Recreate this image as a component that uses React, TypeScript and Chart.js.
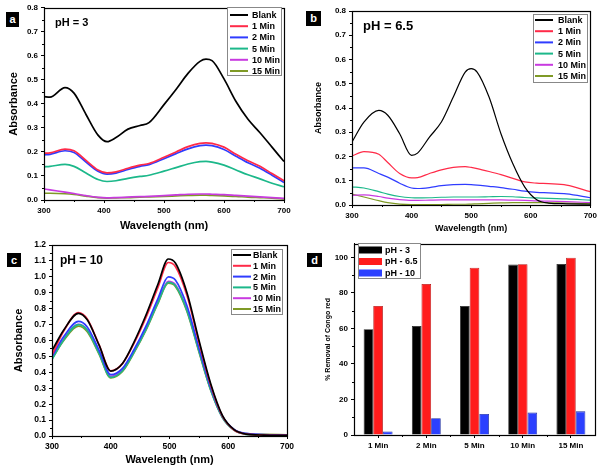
import React, { useEffect, useRef } from 'react';
import { Chart, registerables } from 'chart.js';
Chart.register(...registerables);

const FONT = '"Liberation Sans", Arial, Helvetica, sans-serif';

// ---------- shared series info ----------
const SERIES_LABELS = ['Blank', '1 Min', '2 Min', '5 Min', '10 Min', '15 Min'];
const LINE_COLORS = ['#000000', '#ff2a48', '#2f3cff', '#1cb88a', '#c83ae0', '#7f9a26'];

// ---------- panel a (pH = 3) ----------
const WL_A = [300, 310, 335, 350, 370, 390, 405, 420, 440, 460, 475, 500, 520, 540, 560, 570, 580, 600, 620, 640, 660, 680, 700];
const A_BLANK = [0.43, 0.428, 0.468, 0.445, 0.356, 0.27, 0.243, 0.26, 0.295, 0.31, 0.322, 0.397, 0.46, 0.527, 0.577, 0.586, 0.58, 0.504, 0.41, 0.336, 0.28, 0.22, 0.16];
const A_1 = [0.195, 0.196, 0.212, 0.205, 0.165, 0.125, 0.113, 0.117, 0.132, 0.145, 0.152, 0.178, 0.2, 0.222, 0.236, 0.238, 0.236, 0.22, 0.19, 0.163, 0.14, 0.11, 0.08];
const A_2 = [0.188, 0.19, 0.205, 0.198, 0.158, 0.12, 0.108, 0.112, 0.127, 0.14, 0.147, 0.172, 0.193, 0.213, 0.226, 0.228, 0.226, 0.21, 0.182, 0.155, 0.132, 0.103, 0.073];
const A_5 = [0.138, 0.14, 0.148, 0.14, 0.112, 0.085, 0.077, 0.08, 0.09, 0.098, 0.103, 0.12, 0.135, 0.15, 0.16, 0.161, 0.158, 0.145, 0.125, 0.105, 0.088, 0.07, 0.055];
const A_10 = [0.046, 0.042, 0.033, 0.027, 0.018, 0.011, 0.009, 0.01, 0.012, 0.014, 0.015, 0.018, 0.021, 0.024, 0.025, 0.025, 0.024, 0.022, 0.019, 0.016, 0.013, 0.01, 0.007];
const A_15 = [0.028, 0.028, 0.026, 0.023, 0.016, 0.01, 0.008, 0.009, 0.01, 0.012, 0.013, 0.015, 0.017, 0.019, 0.02, 0.02, 0.019, 0.017, 0.015, 0.012, 0.01, 0.008, 0.005];

// ---------- panel b (pH = 6.5) ----------
const WL_B = [300, 320, 345, 360, 380, 400, 410, 430, 450, 470, 490, 500, 510, 530, 550, 570, 590, 610, 630, 660, 700];
const B_BLANK = [0.26, 0.342, 0.39, 0.37, 0.294, 0.205, 0.214, 0.28, 0.342, 0.445, 0.548, 0.562, 0.548, 0.445, 0.294, 0.17, 0.074, 0.022, 0.008, 0.005, 0.003];
const B_1 = [0.202, 0.22, 0.209, 0.175, 0.13, 0.112, 0.113, 0.13, 0.145, 0.155, 0.158, 0.155, 0.15, 0.138, 0.125, 0.11, 0.095, 0.09, 0.088, 0.082, 0.055];
const B_2 = [0.153, 0.153, 0.13, 0.115, 0.09, 0.07, 0.068, 0.072, 0.08, 0.084, 0.085, 0.084, 0.082, 0.077, 0.072, 0.065, 0.057, 0.052, 0.05, 0.046, 0.03];
const B_5 = [0.075, 0.07, 0.055, 0.045, 0.035, 0.03, 0.029, 0.03, 0.032, 0.033, 0.033, 0.033, 0.033, 0.034, 0.035, 0.034, 0.031, 0.029, 0.027, 0.025, 0.02];
const B_10 = [0.04, 0.042, 0.035, 0.028, 0.022, 0.019, 0.019, 0.02, 0.021, 0.021, 0.021, 0.021, 0.021, 0.021, 0.021, 0.02, 0.019, 0.017, 0.016, 0.014, 0.01];
const B_15 = [0.045, 0.033, 0.018, 0.01, 0.004, 0.002, 0.002, 0.002, 0.002, 0.003, 0.003, 0.004, 0.005, 0.007, 0.009, 0.01, 0.01, 0.01, 0.009, 0.008, 0.006];

// ---------- panel c (pH = 10) ----------
const WL_C = [300, 320, 345, 360, 380, 400, 420, 440, 460, 480, 498, 510, 530, 550, 570, 590, 610, 630, 660, 700];
const C_BLANK = [0.536, 0.666, 0.771, 0.73, 0.572, 0.408, 0.456, 0.593, 0.76, 0.95, 1.112, 1.087, 0.897, 0.603, 0.33, 0.13, 0.04, 0.012, 0.006, 0.004];
const C_1 = [0.51, 0.66, 0.775, 0.735, 0.575, 0.41, 0.455, 0.585, 0.745, 0.93, 1.09, 1.065, 0.88, 0.59, 0.32, 0.125, 0.038, 0.012, 0.006, 0.004];
const C_2 = [0.5, 0.625, 0.72, 0.685, 0.54, 0.385, 0.425, 0.545, 0.69, 0.86, 1.0, 0.98, 0.815, 0.555, 0.305, 0.125, 0.042, 0.016, 0.009, 0.006];
const C_5 = [0.48, 0.605, 0.7, 0.665, 0.52, 0.368, 0.41, 0.53, 0.67, 0.835, 0.965, 0.945, 0.785, 0.535, 0.29, 0.115, 0.035, 0.01, 0.004, 0.002];
const C_10 = [0.49, 0.61, 0.702, 0.668, 0.525, 0.375, 0.415, 0.535, 0.675, 0.84, 0.972, 0.952, 0.79, 0.54, 0.295, 0.118, 0.038, 0.013, 0.007, 0.005];
const C_15 = [0.485, 0.6, 0.69, 0.655, 0.515, 0.365, 0.405, 0.525, 0.665, 0.83, 0.96, 0.94, 0.78, 0.53, 0.29, 0.12, 0.04, 0.015, 0.01, 0.008];

// ---------- panel d (bars) ----------
const BAR_CATS = ['1 Min', '2 Min', '5 Min', '10 Min', '15 Min'];
const BAR_PH3 = [59.5, 61.4, 72.6, 95.9, 96.3];
const BAR_PH65 = [72.6, 85.0, 94.1, 96.1, 99.8];
const BAR_PH10 = [2.0, 9.4, 11.8, 12.6, 13.3];
const BAR_LABELS = ['pH - 3', 'pH - 6.5', 'pH - 10'];
const BAR_COLORS = ['#000000', '#ff1c1c', '#2b40ff'];
const BAR_BORDERS = ['#222222', '#b01010', '#1a2aa0'];

type LegendCfg = {
  x: number; y: number; w: number; h: number;
  rowY: number; rowH: number; sx0: number; sx1: number; tx: number;
  font: number; kind: 'line' | 'box'; swH?: number;
};
type DecorCfg = {
  legend?: LegendCfg;
  texts?: { text: string; x: number; y: number; size: number }[];
  minorLen?: number;
};

function decor(cfg: DecorCfg) {
  return {
    id: 'decor',
    afterDraw(chart: any) {
      const { ctx, chartArea } = chart;
      const { left, right, top, bottom } = chartArea;
      ctx.save();
      // minor ticks at midpoints between major ticks
      const ml = cfg.minorLen ?? 2;
      ctx.strokeStyle = '#000';
      ctx.lineWidth = 1;
      ctx.beginPath();
      const xs = chart.scales.x;
      const ys = chart.scales.y;
      for (let i = 0; i < xs.ticks.length - 1; i++) {
        const p = Math.round((xs.getPixelForTick(i) + xs.getPixelForTick(i + 1)) / 2) + 0.5;
        ctx.moveTo(p, bottom);
        ctx.lineTo(p, bottom + ml);
      }
      for (let i = 0; i < ys.ticks.length - 1; i++) {
        const p = Math.round((ys.getPixelForTick(i) + ys.getPixelForTick(i + 1)) / 2) + 0.5;
        ctx.moveTo(left, p);
        ctx.lineTo(left - ml, p);
      }
      ctx.stroke();
      // frame
      ctx.lineWidth = 1.2;
      ctx.strokeRect(Math.round(left) + 0.5, Math.round(top) + 0.5, Math.round(right - left), Math.round(bottom - top));
      // legend
      if (cfg.legend) {
        const L = cfg.legend;
        ctx.fillStyle = '#ffffff';
        ctx.fillRect(L.x, L.y, L.w, L.h);
        ctx.strokeStyle = '#888888';
        ctx.lineWidth = 1;
        ctx.strokeRect(L.x + 0.5, L.y + 0.5, L.w, L.h);
        chart.data.datasets.forEach((ds: any, i: number) => {
          const y = L.rowY + i * L.rowH;
          if (L.kind === 'line') {
            ctx.strokeStyle = ds.borderColor;
            ctx.lineWidth = 2;
            ctx.beginPath();
            ctx.moveTo(L.sx0, y);
            ctx.lineTo(L.sx1, y);
            ctx.stroke();
          } else {
            const h = L.swH ?? 7;
            ctx.fillStyle = ds.backgroundColor;
            ctx.fillRect(L.sx0, y - h / 2, L.sx1 - L.sx0, h);
          }
          ctx.fillStyle = '#000';
          ctx.font = `bold ${L.font}px ${FONT}`;
          ctx.textAlign = 'left';
          ctx.textBaseline = 'middle';
          ctx.fillText(ds.label, L.tx, y + 0.5);
        });
      }
      // free texts
      (cfg.texts || []).forEach((t) => {
        ctx.fillStyle = '#000';
        ctx.font = `bold ${t.size}px ${FONT}`;
        ctx.textAlign = 'left';
        ctx.textBaseline = 'middle';
        ctx.fillText(t.text, t.x, t.y);
      });
      ctx.restore();
    },
  };
}

function tickFont(size: number) {
  return { size, weight: 'bold' as const, family: FONT };
}

function gridStyle() {
  return { display: true, drawOnChartArea: false, drawTicks: true, tickLength: 3, color: '#000', lineWidth: 1 };
}

type LinePanel = {
  wl: number[];
  series: number[][];
  yMax: number;
  lineWidth: number;
  tickSize: number;
  titleSize: number;
  yWidth: number;
  xHeight: number;
  pad: { top: number; right: number };
  yTitlePad: number;
  xTitlePad: number;
};

function lineConfig(p: LinePanel): any {
  return {
    type: 'line',
    data: {
      datasets: p.series.map((vals, i) => ({
        label: SERIES_LABELS[i],
        data: p.wl.map((x, j) => ({ x, y: vals[j] })),
        borderColor: LINE_COLORS[i],
        backgroundColor: LINE_COLORS[i],
        borderWidth: p.lineWidth,
        pointRadius: 0,
        cubicInterpolationMode: 'monotone',
        fill: false,
      })),
    },
    options: {
      animation: false,
      responsive: false,
      layout: { padding: { top: p.pad.top, right: p.pad.right, left: 0, bottom: 0 } },
      plugins: { legend: { display: false }, tooltip: { enabled: false } },
      scales: {
        x: {
          type: 'linear',
          min: 300,
          max: 700,
          afterFit: (s: any) => { s.height = p.xHeight; },
          grid: gridStyle(),
          border: { display: true, color: '#000', width: 1 },
          ticks: { stepSize: 100, color: '#000', font: tickFont(p.tickSize), padding: 3, maxRotation: 0 },
          title: { display: true, text: 'Wavelength (nm)', color: '#000', font: { size: p.titleSize, weight: 'bold', family: FONT }, padding: { top: 0, bottom: p.xTitlePad } },
        },
        y: {
          min: 0,
          max: p.yMax,
          afterFit: (s: any) => { s.width = p.yWidth; },
          grid: gridStyle(),
          border: { display: true, color: '#000', width: 1 },
          ticks: { stepSize: 0.1, color: '#000', font: tickFont(p.tickSize), padding: 3, callback: (v: any) => Number(v).toFixed(1) },
          title: { display: true, text: 'Absorbance', color: '#000', font: { size: p.titleSize, weight: 'bold', family: FONT }, padding: { top: p.yTitlePad, bottom: 0 } },
        },
      },
    },
  };
}

function legendFor(x: number, y: number, w: number, h: number, rowY: number, rowH: number, sx0: number, sx1: number, tx: number): LegendCfg {
  return { x, y, w, h, rowY, rowH, sx0, sx1, tx, font: 9, kind: 'line' };
}

const CFG_A = lineConfig({
  wl: WL_A,
  series: [A_BLANK, A_1, A_2, A_5, A_10, A_15],
  yMax: 0.8, lineWidth: 1.7, tickSize: 8, titleSize: 11,
  yWidth: 44, xHeight: 36, pad: { top: 5, right: 16 }, yTitlePad: 7, xTitlePad: 3,
});
const DECOR_A: DecorCfg = {
  legend: legendFor(227, 7, 54, 68, 15, 11.2, 230, 248, 252),
  texts: [{ text: 'pH = 3', x: 55, y: 23, size: 11 }],
};

const CFG_B = lineConfig({
  wl: WL_B,
  series: [B_BLANK, B_1, B_2, B_5, B_10, B_15],
  yMax: 0.8, lineWidth: 1.2, tickSize: 8, titleSize: 9,
  yWidth: 52, xHeight: 31, pad: { top: 11, right: 8 }, yTitlePad: 13, xTitlePad: 2,
});
const DECOR_B: DecorCfg = {
  legend: legendFor(233, 14, 54, 68, 20, 11.2, 235, 253, 258),
  texts: [{ text: 'pH = 6.5', x: 63, y: 26, size: 13 }],
};

const CFG_C = lineConfig({
  wl: WL_C,
  series: [C_BLANK, C_1, C_2, C_5, C_10, C_15],
  yMax: 1.2, lineWidth: 1.7, tickSize: 8.5, titleSize: 11,
  yWidth: 52, xHeight: 33, pad: { top: 9, right: 13 }, yTitlePad: 12, xTitlePad: 2,
});
const DECOR_C: DecorCfg = {
  legend: legendFor(231, 13, 51, 65, 19, 10.8, 233, 251, 253),
  texts: [{ text: 'pH = 10', x: 60, y: 25, size: 12 }],
};

const BAR_SERIES = [BAR_PH3, BAR_PH65, BAR_PH10];
const CFG_D: any = {
  type: 'bar',
  data: {
    labels: BAR_CATS,
    datasets: BAR_SERIES.map((vals, i) => ({
      label: BAR_LABELS[i],
      data: vals,
      backgroundColor: BAR_COLORS[i],
      borderColor: BAR_BORDERS[i],
      borderWidth: 0.8,
      barPercentage: 1,
      categoryPercentage: 0.6,
    })),
  },
  options: {
    animation: false,
    responsive: false,
    layout: { padding: { top: 5, right: 5, left: 0, bottom: 0 } },
    plugins: { legend: { display: false }, tooltip: { enabled: false } },
    scales: {
      x: {
        afterFit: (s: any) => { s.height = 34; },
        grid: { ...gridStyle(), offset: false },
        border: { display: true, color: '#000', width: 1 },
        ticks: { color: '#000', font: tickFont(8), padding: 3, maxRotation: 0, autoSkip: false },
      },
      y: {
        min: 0,
        max: 107.6,
        afterFit: (s: any) => { s.width = 54; },
        grid: gridStyle(),
        border: { display: true, color: '#000', width: 1 },
        ticks: { stepSize: 20, includeBounds: false, color: '#000', font: tickFont(8), padding: 3 },
        title: { display: true, text: '% Removal of Congo red', color: '#000', font: { size: 7, weight: 'bold', family: FONT }, padding: { top: 24, bottom: 0 } },
      },
    },
  },
};
const DECOR_D: DecorCfg = {
  legend: { x: 58, y: 7, w: 62, h: 35, rowY: 14, rowH: 11.5, sx0: 59, sx1: 82, tx: 85, font: 9, kind: 'box', swH: 7 },
};

function Panel({ config, deco, left, top, width, height }: { config: any; deco: DecorCfg; left: number; top: number; width: number; height: number }) {
  const ref = useRef<HTMLCanvasElement | null>(null);
  useEffect(() => {
    if (!ref.current) return;
    const chart = new Chart(ref.current, { ...config, plugins: [decor(deco)] });
    return () => chart.destroy();
  }, []);
  return (
    <canvas
      ref={ref}
      width={width}
      height={height}
      style={{ position: 'absolute', left, top, width, height }}
    />
  );
}

function Tag({ text, left, top, w, h }: { text: string; left: number; top: number; w: number; h: number }) {
  return (
    <div
      style={{
        position: 'absolute', left, top, width: w, height: h, background: '#000', color: '#fff',
        fontFamily: FONT, fontWeight: 'bold', fontSize: 11, lineHeight: `${h}px`, textAlign: 'center',
      }}
    >
      {text}
    </div>
  );
}

export default function App() {
  return (
    <div style={{ position: 'fixed', left: 0, top: 0, width: 600, height: 469, background: '#fff', overflow: 'hidden' }}>
      <Panel config={CFG_A} deco={DECOR_A} left={0} top={0} width={300} height={236} />
      <Panel config={CFG_B} deco={DECOR_B} left={300} top={0} width={300} height={236} />
      <Panel config={CFG_C} deco={DECOR_C} left={0} top={236} width={300} height={233} />
      <Panel config={CFG_D} deco={DECOR_D} left={300} top={236} width={300} height={233} />
      <Tag text="a" left={6} top={12} w={13} h={15} />
      <Tag text="b" left={306} top={11} w={15} h={15} />
      <Tag text="c" left={7} top={253} w={14} h={14} />
      <Tag text="d" left={307} top={253} w={15} h={14} />
    </div>
  );
}
